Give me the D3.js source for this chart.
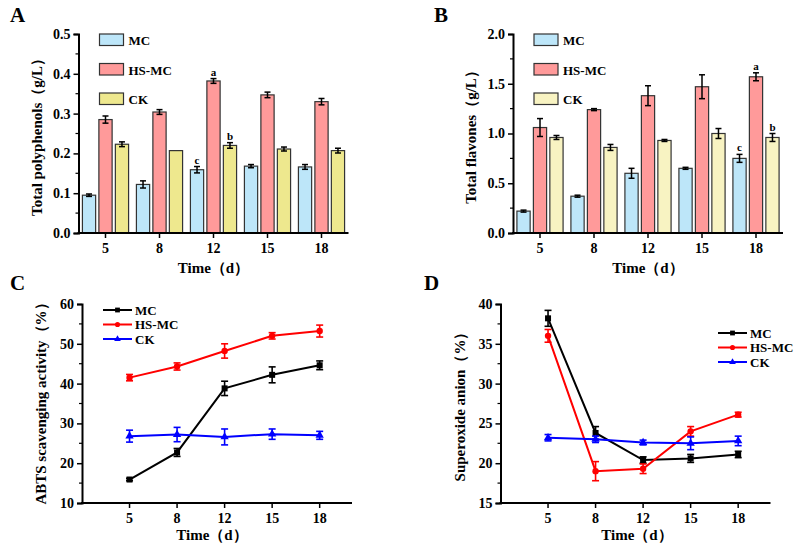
<!DOCTYPE html>
<html><head><meta charset="utf-8">
<script src="https://cdn.jsdelivr.net/npm/d3@7"></script>
<style>
body{margin:0;background:#fff;}
text{font-family:"Liberation Serif","Times New Roman",serif;font-weight:bold;fill:#000;}
</style></head>
<body>
<svg id="c" width="797" height="543"></svg>
<script>
// ---------- DATA ----------
const days = ["5","8","12","15","18"];
const seriesNames = ["MC","HS-MC","CK"];

// Panel A: Total polyphenols (g/L)
const polyMC = [0.095,0.122,0.159,0.168,0.166];
const polyMCErr = [0.003,0.009,0.008,0.004,0.006];
const polyHS = [0.285,0.304,0.382,0.347,0.330];
const polyHSErr = [0.009,0.006,0.006,0.007,0.008];
const polyCK = [0.223,0.207,0.220,0.211,0.207];
const polyCKErr = [0.006,0.000,0.007,0.005,0.006];
const polyLetters = [["","","",],["","",""],["c","a","b"],["","",""],["","",""]];

// Panel B: Total flavones (g/L)
const flavMC = [0.22,0.37,0.60,0.65,0.75];
const flavMCErr = [0.01,0.01,0.05,0.01,0.04];
const flavHS = [1.06,1.24,1.38,1.47,1.57];
const flavHSErr = [0.09,0.01,0.10,0.12,0.04];
const flavCK = [0.96,0.86,0.93,1.00,0.96];
const flavCKErr = [0.02,0.03,0.01,0.05,0.04];
const flavLetters = [["","",""],["","",""],["","",""],["","",""],["c","a","b"]];

// Panel C: ABTS scavenging activity (%)
const abtsMC = [15.9,22.7,38.8,42.2,44.6];
const abtsMCErr = [0.3,1.0,1.8,2.0,1.1];
const abtsHS = [41.5,44.3,48.2,52.0,53.2];
const abtsHSErr = [0.8,0.9,1.8,0.8,1.5];
const abtsCK = [26.8,27.2,26.6,27.3,27.0];
const abtsCKErr = [1.5,1.8,2.0,1.3,1.0];

// Panel D: Superoxide anion (%)
const supMC = [38.2,23.8,20.4,20.6,21.1];
const supMCErr = [1.0,0.8,0.4,0.5,0.4];
const supHS = [36.0,19.0,19.3,24.0,26.1];
const supHSErr = [0.8,1.2,0.6,0.6,0.3];
const supCK = [23.2,23.0,22.6,22.5,22.8];
const supCKErr = [0.4,0.4,0.3,0.8,0.6];

// ---------- DRAW ----------
const svg = d3.select("#c");
const FONT = '"Liberation Serif","Times New Roman",serif';

function yAxis(g, y, x0, major, minorStep, fmt){
  const ax = g.append("g").attr("transform",`translate(${x0},0)`)
    .call(d3.axisLeft(y).tickValues(major).tickSize(5).tickPadding(3).tickFormat(fmt));
  ax.select(".domain").attr("stroke-width",2).attr("stroke","#000");
  ax.selectAll(".tick line").attr("stroke-width",1.5);
  ax.selectAll("text").style("font-size","14px").style("font-family",FONT).style("font-weight","bold");
  const [d0,d1] = y.domain();
  const minor = d3.range(d0+minorStep, d1, minorStep*2);
  ax.selectAll(".minor").data(minor).enter().append("line")
    .attr("x1",0).attr("x2",-3).attr("y1",d=>y(d)).attr("y2",d=>y(d))
    .attr("stroke","#000").attr("stroke-width",1.2);
}
function xAxisTicks(g, positions, labels, y0, x0, x1){
  g.append("line").attr("x1",x0-1).attr("x2",x1).attr("y1",y0).attr("y2",y0)
    .attr("stroke","#000").attr("stroke-width",2);
  positions.forEach((p,i)=>{
    g.append("line").attr("x1",p).attr("x2",p).attr("y1",y0).attr("y2",y0+5)
      .attr("stroke","#000").attr("stroke-width",1.5);
    g.append("text").attr("x",p).attr("y",y0+20).attr("text-anchor","middle")
      .style("font-size","14px").text(labels[i]);
  });
}
function labels(g, letter, lx, ly, ylab, ylx, yly, xlx, xly){
  g.append("text").attr("x",lx).attr("y",ly).style("font-size","21px").text(letter);
  g.append("text").attr("transform",`translate(${ylx},${yly}) rotate(-90)`)
    .attr("text-anchor","middle").style("font-size","15px").text(ylab);
  g.append("text").attr("x",xlx).attr("y",xly).attr("text-anchor","middle")
    .style("font-size","15px").text("Time（d）");
}
function errBar(g, x, yTop, yBot, cap, color, w){
  if (Math.abs(yBot-yTop) < 0.5) return;
  g.append("line").attr("x1",x).attr("x2",x).attr("y1",yTop).attr("y2",yBot).attr("stroke",color).attr("stroke-width",w);
  g.append("line").attr("x1",x-cap).attr("x2",x+cap).attr("y1",yTop).attr("y2",yTop).attr("stroke",color).attr("stroke-width",w);
  g.append("line").attr("x1",x-cap).attr("x2",x+cap).attr("y1",yBot).attr("y2",yBot).attr("stroke",color).attr("stroke-width",w);
}

function barPanel(cfg){
  const g = svg.append("g");
  const x = d3.scaleBand().domain(days).range([cfg.x0, cfg.x0+270]).padding(0);
  const y = d3.scaleLinear().domain(cfg.ydom).range([cfg.yb, cfg.yt]);
  const bw = x.bandwidth();
  const barW = bw*0.245, step = bw*0.305;
  cfg.series.forEach((s,si)=>{
    const off = (si-1)*step;
    days.forEach((d,i)=>{
      const cx = x(d)+bw/2+off;
      g.append("rect").attr("x",cx-barW/2).attr("y",y(s.vals[i]))
        .attr("width",barW).attr("height",y(cfg.ydom[0])-y(s.vals[i]))
        .attr("fill",s.color).attr("stroke","#333").attr("stroke-width",1.2);
      const e = s.err[i];
      errBar(g,cx,y(s.vals[i]+e),y(s.vals[i]-e),3,"#000",1.5);
      const L = cfg.letters[i][si];
      if(L) g.append("text").attr("x",cx).attr("y",y(s.vals[i]+e)-3).attr("text-anchor","middle")
        .style("font-size","11px").text(L);
    });
  });
  yAxis(g,y,cfg.x0,cfg.major,cfg.minor,cfg.fmt);
  xAxisTicks(g, days.map(d=>x(d)+bw/2), days, cfg.yb, cfg.x0, cfg.x0+270);
  // legend
  cfg.series.forEach((s,si)=>{
    const ly = cfg.yt + si*29.5;
    g.append("rect").attr("x",cfg.x0+21).attr("y",ly).attr("width",24).attr("height",11.5)
      .attr("fill",s.color).attr("stroke","#333").attr("stroke-width",1.2);
    g.append("text").attr("x",cfg.x0+50).attr("y",ly+11).style("font-size","13px").text(s.name);
  });
  labels(g, cfg.letter, cfg.lx, 22, cfg.ylab, cfg.x0-37, (cfg.yt+cfg.yb)/2, cfg.x0+135, 273);
}

barPanel({x0:78.5, yt:34, yb:233, ydom:[0,0.5], major:[0,0.1,0.2,0.3,0.4,0.5], minor:0.05,
  fmt:d3.format(".1f"), letter:"A", lx:10, ylab:"Total polyphenols（g/L）", letters:polyLetters,
  series:[{name:"MC",vals:polyMC,err:polyMCErr,color:"#bde6f9"},
          {name:"HS-MC",vals:polyHS,err:polyHSErr,color:"#ff9a9a"},
          {name:"CK",vals:polyCK,err:polyCKErr,color:"#eee88e"}]});

barPanel({x0:513, yt:34, yb:233, ydom:[0,2.0], major:[0,0.5,1.0,1.5,2.0], minor:0.25,
  fmt:d3.format(".1f"), letter:"B", lx:434, ylab:"Total flavones（g/L）", letters:flavLetters,
  series:[{name:"MC",vals:flavMC,err:flavMCErr,color:"#bde6f9"},
          {name:"HS-MC",vals:flavHS,err:flavHSErr,color:"#ff9a9a"},
          {name:"CK",vals:flavCK,err:flavCKErr,color:"#f8f3c2"}]});

function linePanel(cfg){
  const g = svg.append("g");
  const x = d3.scaleLinear().domain([0,5.68]).range([cfg.x0, cfg.x0+270]);
  const y = d3.scaleLinear().domain(cfg.ydom).range([cfg.yb, cfg.yt]);
  yAxis(g,y,cfg.x0,cfg.major,cfg.minor,d3.format("d"));
  xAxisTicks(g, days.map((d,i)=>x(i+1)), days, cfg.yb, cfg.x0, cfg.x0+270);
  const line = d3.line().x((d,i)=>x(i+1)).y(d=>y(d));
  cfg.series.forEach(s=>{
    g.append("path").attr("d",line(s.vals)).attr("fill","none").attr("stroke",s.color).attr("stroke-width",2);
    s.vals.forEach((v,i)=>{
      errBar(g,x(i+1),y(v+s.err[i]),y(v-s.err[i]),3.5,s.color,1.6);
      marker(g,s.shape,x(i+1),y(v),s.color);
    });
  });
  cfg.series.forEach((s,si)=>{
    const ly = cfg.ly + si*14.5;
    g.append("line").attr("x1",cfg.lx).attr("x2",cfg.lx+29).attr("y1",ly).attr("y2",ly).attr("stroke",s.color).attr("stroke-width",2);
    marker(g,s.shape,cfg.lx+14.5,ly,s.color,0.8);
    g.append("text").attr("x",cfg.lx+32).attr("y",ly+4.5).style("font-size","13px").text(s.name);
  });
  labels(g, cfg.letter, cfg.plx, 290, cfg.ylab, cfg.x0-36, cfg.yly, cfg.xlx, 540);
}
function marker(g,shape,cx,cy,color,sc=1){
  if(shape==="square") g.append("rect").attr("x",cx-3*sc).attr("y",cy-3*sc).attr("width",6*sc).attr("height",6*sc).attr("fill",color);
  else if(shape==="circle") g.append("circle").attr("cx",cx).attr("cy",cy).attr("r",3.2*sc).attr("fill",color);
  else g.append("path").attr("d",d3.symbol(d3.symbolTriangle,30*sc*sc)()).attr("transform",`translate(${cx},${cy})`).attr("fill",color);
}

linePanel({x0:82, yt:304, yb:503, ydom:[10,60], major:[10,20,30,40,50,60], minor:5,
  letter:"C", plx:10, ylab:"ABTS scavenging activity（%）", yly:400, xlx:212,
  lx:103, ly:310,
  series:[{name:"MC",vals:abtsMC,err:abtsMCErr,color:"#000",shape:"square"},
          {name:"HS-MC",vals:abtsHS,err:abtsHSErr,color:"#ff0000",shape:"circle"},
          {name:"CK",vals:abtsCK,err:abtsCKErr,color:"#0000ff",shape:"triangle"}]});

linePanel({x0:500.5, yt:304, yb:503, ydom:[15,40], major:[15,20,25,30,35,40], minor:2.5,
  letter:"D", plx:424, ylab:"Superoxide anion（%）", yly:403, xlx:637,
  lx:718, ly:333,
  series:[{name:"MC",vals:supMC,err:supMCErr,color:"#000",shape:"square"},
          {name:"HS-MC",vals:supHS,err:supHSErr,color:"#ff0000",shape:"circle"},
          {name:"CK",vals:supCK,err:supCKErr,color:"#0000ff",shape:"triangle"}]});
</script>
</body></html>
